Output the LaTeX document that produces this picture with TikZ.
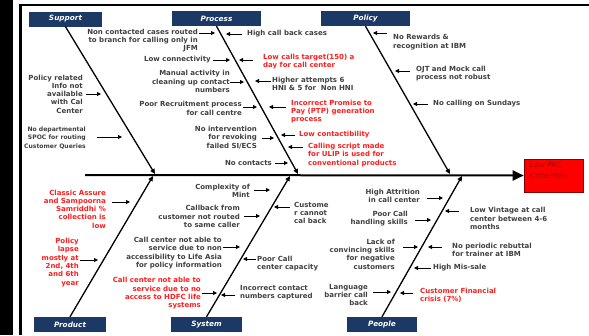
\documentclass[tikz,border=0pt]{standalone}
\usepackage{fontspec}
\setmainfont{DejaVu Sans}
\usetikzlibrary{arrows.meta}
\definecolor{txtgray}{RGB}{64,64,64}
\definecolor{txtred}{RGB}{255,30,30}
\definecolor{catblue}{RGB}{28,56,100}
\definecolor{effred}{RGB}{255,0,0}
\definecolor{efftext}{RGB}{170,0,0}
\newcommand{\fbarr}[4]{%
  \coordinate (#1t) at (#2,#4);
  \coordinate (#1h) at (#3,#4);
  \draw[smallarr] (#1t) -- (#1h);}
\tikzset{
  lbl/.style={inner sep=0pt, text=txtgray, font=\bfseries\fontsize{7}{8.3}\selectfont},
  lblL/.style={lbl, anchor=east, align=right},
  lblR/.style={lbl, anchor=west, align=left},
  hot/.style={text=txtred},
  catbox/.style={fill=catblue, text=white, inner sep=0pt, minimum height=15pt,
    font=\bfseries\itshape\fontsize{7.3}{8}\selectfont},
  bone/.style={line width=1.3pt, -{Triangle[length=5pt,width=4.5pt]}},
  smallarr/.style={line width=0.9pt, -{Triangle[length=4pt,width=4pt]}},
  effbox/.style={fill=effred, draw=black!50!red, line width=0.6pt, minimum width=59pt, minimum height=33pt, inner sep=0pt},
  efftxt/.style={inner sep=0pt, text=efftext, align=left, font=\itshape\fontsize{7.5}{11}\selectfont},
}
\begin{document}
\begin{tikzpicture}[x=1pt,y=-1pt]
\useasboundingbox (0,0) rectangle (589,335);
% frame
\fill[black] (0,0) rectangle (13,335);
\draw[line width=2.2pt] (20.5,335) -- (20.5,5) -- (589,5);
% category boxes
\node[catbox, minimum width=73pt] (support) at (65.5,19) {Support};
\node[catbox, minimum width=89pt] (process) at (216.5,18.5) {Process};
\node[catbox, minimum width=89pt] (policy) at (365.5,18.5) {Policy};
\node[catbox, minimum width=72pt] (product) at (70,324.5) {Product};
\node[catbox, minimum width=71pt] (system) at (206.5,324.5) {System};
\node[catbox, minimum width=70pt] (people) at (382,324.5) {People};
% effect
\node[effbox] (eff) at (553.5,175.5) {};
\node[efftxt, anchor=north west] (efft) at ([xshift=6pt,yshift=-3pt]eff.north west) {Low PRC\\Collection};
% spine
\coordinate (spst) at (85,175);
\draw[line width=2pt, -{Triangle[length=11pt,width=10pt]}] (spst) -- (eff.west);
% bone ends
\coordinate (eSup) at (155,174);
\coordinate (ePro) at (298,174);
\coordinate (ePol) at (450,174);
\coordinate (eProd) at (153,176);
\coordinate (eSys) at (290,176);
\coordinate (ePeo) at (462,176);
\draw[bone] (support.south) -- (eSup);
\draw[bone] (process.south) -- (ePro);
\draw[bone] (policy.south) -- (ePol);
\draw[bone] (product.north) -- (eProd);
\draw[bone] (system.north) -- (eSys);
\draw[bone] (people.north) -- (ePeo);
% Support labels
\node[lblL] (s1) at (83,94) {Policy related\\Info not\\available\\with Cal\\Center};
\node[lblL, font=\bfseries\fontsize{6.1}{8.3}\selectfont] (s2) at (86,138) {No departmental\\SPOC for routing\\Customer Queries};
% Process labels
\node[lblL] (p1) at (198,40.5) {Non contacted cases routed\\to branch for calling only in\\JFM};
\node[lblL] (p2) at (211,60) {Low connectivity};
\node[lblL] (p3) at (230,81.5) {Manual activity in\\cleaning up contact\\numbers};
\node[lblL] (p4) at (242,108.5) {Poor Recruitment process\\for call centre};
\node[lblL] (p5) at (257,137.5) {No intervention\\for revoking\\failed SI/ECS};
\node[lblL] (p6) at (272,163) {No contacts};
\node[lblR] (p7) at (247,34) {High call back cases};
\node[lblR, hot] (p8) at (263,61.5) {Low calls target(150) a\\day for call center};
\node[lblR] (p9) at (272,84) {Higher attempts 6\\HNI \& 5 for~ Non HNI};
\node[lblR, hot] (p10) at (291,111.5) {Incorrect Promise to\\Pay (PTP) generation\\process};
\node[lblR, hot] (p11) at (299,135) {Low contactibility};
\node[lblR, hot] (p12) at (308,155) {Calling script made\\for ULIP is used for\\conventional products};
% Policy labels
\node[lblR] (po1) at (393,42) {No Rewards \&\\recognition at IBM};
\node[lblR] (po2) at (416,73.5) {OJT and Mock call\\process not robust};
\node[lblR] (po3) at (433,104) {No calling on Sundays};
% Product labels
\node[lblL, hot] (pr1) at (106,209) {Classic Assure\\and Sampoorna\\Samriddhi \%\\collection is\\low};
\node[lblL, hot] (pr2) at (79,262.5) {Policy\\lapse\\mostly at\\2nd, 4th\\and 6th\\year};
% System labels
\node[lblL] (sy1) at (250,191) {Complexity of\\Mint};
\node[lblL] (sy2) at (240,216.5) {Callback from\\customer not routed\\to same caller};
\node[lblL] (sy3) at (222,253) {Call center not able to\\service due to non\\accessibility to Life Asia\\for policy information};
\node[lblL, hot] (sy4) at (201,293.5) {Call center not able to\\service due to no\\access to HDFC life\\systems};
\node[lblR] (sy5) at (294,213) {Custome\\r cannot\\cal back};
\node[lblR] (sy6) at (257,263.5) {Poor Call\\center capacity};
\node[lblR] (sy7) at (240,292.5) {Incorrect contact\\numbers captured};
% People labels
\node[lblL] (pe1) at (420,196) {High Attrition\\in call center};
\node[lblL] (pe2) at (408,218.5) {Poor Call\\handling skills};
\node[lblL] (pe3) at (395,254) {Lack of\\convincing skills\\for negative\\customers};
\node[lblL] (pe4) at (368,295) {Language\\barrier call\\back};
\node[lblR] (pe5) at (470,218.5) {Low Vintage at call\\center between 4-6\\months};
\node[lblR] (pe6) at (452,250) {No periodic rebuttal\\for trainer at IBM};
\node[lblR] (pe7) at (433,268) {High Mis-sale};
\node[lblR, hot] (pe8) at (420,295) {Customer Financial\\crisis (7\%)};
% small arrows
\fbarr{a1}{86}{101}{94}
\fbarr{a2}{97}{122}{137}
\fbarr{a3}{199}{215}{33}
\fbarr{a4}{213}{230}{60}
\fbarr{a5}{230}{244}{82}
\fbarr{a6}{243}{257}{107}
\fbarr{a7}{262}{274}{138}
\fbarr{a8}{275}{288}{163}
\fbarr{a9}{242}{226}{34}
\fbarr{a10}{253}{239}{60}
\fbarr{a11}{271}{255}{81}
\fbarr{a12}{286}{269}{107}
\fbarr{a13}{295}{281}{135}
\fbarr{a14}{303}{288}{147}
\fbarr{a15}{387}{373}{33}
\fbarr{a16}{410}{395}{71}
\fbarr{a17}{428}{413}{104}
\fbarr{a18}{112}{130}{202}
\fbarr{a19}{80}{98}{260}
\fbarr{a20}{254}{270}{190}
\fbarr{a21}{244}{260}{216}
\fbarr{a22}{223}{240}{247}
\fbarr{a23}{202}{217}{293}
\fbarr{a24}{290}{274}{207}
\fbarr{a25}{256}{243}{259}
\fbarr{a26}{235}{221}{295}
\fbarr{a27}{427}{443}{198}
\fbarr{a28}{415}{431}{220}
\fbarr{a29}{403}{418}{247}
\fbarr{a30}{373}{391}{292}
\fbarr{a31}{459}{445}{211}
\fbarr{a32}{442}{428}{247}
\fbarr{a33}{431}{414}{268}
\fbarr{a34}{413}{400}{293}
\end{tikzpicture}
\end{document}
